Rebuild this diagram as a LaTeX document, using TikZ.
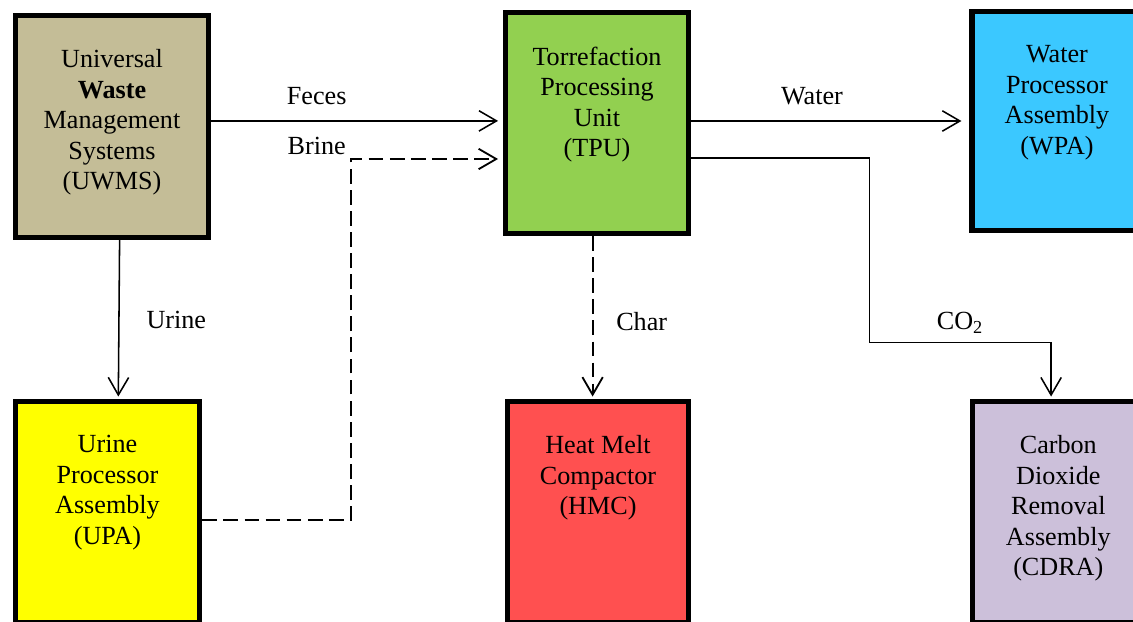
\documentclass[tikz,border=0pt]{standalone}
\usepackage{fontspec}
\setmainfont{Liberation Serif}
\usetikzlibrary{arrows.meta}
\definecolor{uwmstan}{RGB}{196,189,151}
\definecolor{tpugreen}{RGB}{146,208,80}
\definecolor{wpacyan}{RGB}{59,200,255}
\definecolor{upayellow}{RGB}{255,255,0}
\definecolor{hmcred}{RGB}{255,80,80}
\definecolor{cdralilac}{RGB}{204,192,218}

\begin{document}
\begin{tikzpicture}[
    x=0.025cm, y=-0.025cm,
    unit/.style={
        draw=black,
        line width=3.6pt,
        minimum height=5.525cm,
        inner sep=0pt
      },
    unittext/.style={
        anchor=north,
        align=center,
        inner sep=0pt,
        font=\fontsize{18.6pt}{21.7pt}\selectfont
      },
    flowlabel/.style={
        anchor=base,
        inner sep=0pt,
        font=\fontsize{18.6pt}{21.7pt}\selectfont
      },
    arr/.style={-{Straight Barb[length=12.5pt, width=14.5pt]}, line width=1.1pt},
    dasharr/.style={arr, line width=1.3pt, dash pattern=on 10.5pt off 4.5pt}
  ]
  \useasboundingbox (0,0) rectangle (1133,622);
  \clip (0,0) rectangle (1133,622);

  \node[unit, fill=uwmstan, minimum width=4.825cm, minimum height=5.55cm] (uwms) at (112,126.5) {};
  \node[unit, fill=tpugreen, minimum width=4.56cm] (tpu) at (597,123) {};
  \node[unit, fill=wpacyan, minimum width=4.25cm, minimum height=5.475cm] (wpa) at (1057,121) {};
  \node[unit, fill=upayellow, minimum width=4.615cm] (upa) at (107.5,512) {};
  \node[unit, fill=hmcred, minimum width=4.525cm] (hmc) at (598,512) {};
  \node[unit, fill=cdralilac, minimum width=4.29cm] (cdra) at (1058.3,512) {};

  \node[unittext] (uwmstext) at ([yshift=-0.91cm]uwms.north) {Universal\\\textbf{Waste}\\Management\\Systems\\(UWMS)};
  \node[unittext] (tputext) at ([yshift=-0.91cm]tpu.north) {Torrefaction\\Processing\\Unit\\(TPU)};
  \node[unittext] (wpatext) at ([yshift=-0.91cm]wpa.north) {Water\\Processor\\Assembly\\(WPA)};
  \node[unittext] (upatext) at ([yshift=-0.91cm]upa.north) {Urine\\Processor\\Assembly\\(UPA)};
  \node[unittext] (hmctext) at ([yshift=-0.91cm]hmc.north) {Heat Melt\\Compactor\\(HMC)};
  \node[unittext] (cdratext) at ([yshift=-0.91cm]cdra.north) {Carbon\\Dioxide\\Removal\\Assembly\\(CDRA)};

  \coordinate (brinebend) at (351,159);
  \coordinate (co2bend) at (869.3,342.7);

  \draw[arr, shorten >=0.13cm] ([yshift=0.14cm]uwms.east) -- ([yshift=0.14cm]uwms.east -| tpu.west);
  \draw[dasharr, shorten >=0.13cm] ([yshift=-0.2cm]upa.east) -| (brinebend) -- (brinebend -| tpu.west);
  \draw[arr, shorten >=0.06cm] ([xshift=0.19cm]uwms.south) -- ([xshift=0.27cm]upa.north);
  \draw[arr, shorten >=0.2cm] ([yshift=0.05cm]tpu.east) -- ([yshift=0.05cm]tpu.east -| wpa.west);
  \draw[dasharr, shorten >=0.06cm] ([xshift=-0.11cm]tpu.south) -- ([xshift=-0.11cm]tpu.south |- hmc.north);
  \draw[arr, shorten >=0.06cm] ([yshift=-0.875cm]tpu.east) -| (co2bend) -| ([xshift=-0.18cm]cdra.north);

  \node[flowlabel] (feces) at (316.7,105) {Feces};
  \node[flowlabel] (brine) at (316.7,155) {Brine};
  \node[flowlabel] (water) at (812,104.3) {Water};
  \node[flowlabel] (urine) at (176.3,329) {Urine};
  \node[flowlabel] (char) at (641.7,330.7) {Char};
  \node[flowlabel] (co2) at (960,330) {CO\textsubscript{2}};
\end{tikzpicture}
\end{document}
